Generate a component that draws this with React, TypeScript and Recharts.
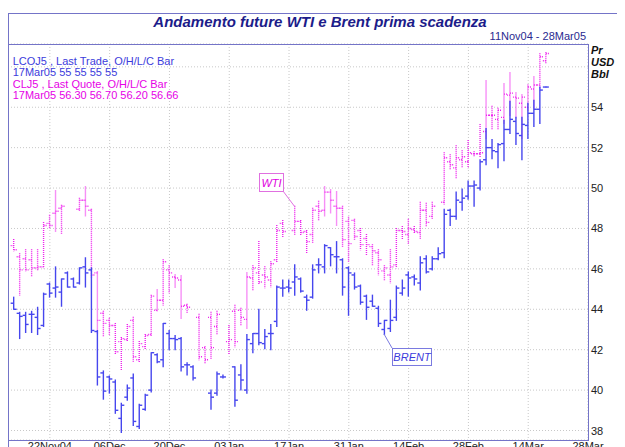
import React from "react";
import { ComposedChart, Bar, XAxis, YAxis, CartesianGrid } from "recharts";

const W = 617;
const H = 439;

// trading-day slots: 0 = 12Nov04 ... 89 = 17Mar05 (weekdays only)
const SLOTS = [
  0, 1, 2, 3, 4, 5, 6, 7, 8, 9, 10, 11, 12, 13, 14, 15, 16, 17, 18, 19,
  20, 21, 22, 23, 24, 25, 26, 27, 28, 29, 30, 31, 32, 33, 34, 35, 36, 37, 38, 39,
  40, 41, 42, 43, 44, 45, 46, 47, 48, 49, 50, 51, 52, 53, 54, 55, 56, 57, 58, 59,
  60, 61, 62, 63, 64, 65, 66, 67, 68, 69, 70, 71, 72, 73, 74, 75, 76, 77, 78, 79,
  80, 81, 82, 83, 84, 85, 86, 87, 88, 89,
];

const TICK_SLOTS = [6, 16, 26, 36, 46, 56, 66, 76, 86, 96];
const TICK_LABELS = ["22Nov04", "06Dec", "20Dec", "03Jan", "17Jan", "31Jan", "14Feb", "28Feb", "14Mar", "28Mar"];
const Y_TICKS = [38, 40, 42, 44, 46, 48, 50, 52, 54, 56];
// the top gridline has no label (the unit label sits there)
const Y_LABELLED = [38, 40, 42, 44, 46, 48, 50, 52, 54];

// Brent (LCOJ5) open / high / low / close
const BRENT_O = [
  44.3, 43.8, 43.7, 43.75, 43.6, 43.2, 45.25, 45.05, 44.85, 45.8,
  45.5, 45.3, 46.1, 45.95, 42.9, 40.85, 40.65, 40.4, 38.6, 39.65,
  40.6, 38.2, 39.05, 40.0, 41.75, 41.5, 42.8, 42.55, 42.55, 41.25,
  41.15, null, null, 39.85, 39.85, 40.65, null, 41.15, 40.75, 40.0,
  42.3, 42.8, 42.3, 42.8, 43.4, 45.05, 45.1, 45.35, 45.5, 44.6,
  44.6, 46.2, 46.1, 47.05, 46.6, 46.45, 46.05, 45.7, 45.15, 44.65,
  44.4, 44.05, 43.0, 43.05, 43.6, 44.8, 45.7, 45.6, 45.3, 46.5,
  46.0, 46.5, 46.8, 48.9, 48.6, 49.3, 49.6, 50.1, 50.0, 51.4,
  52.0, 51.8, 52.2, 52.9, 53.3, 52.6, 53.1, 53.7, 53.9, 55,
];
const BRENT_H = [
  44.6, 43.85, 43.85, 43.9, 44.1, 44.8, 45.3, 46.1, 45.5, 45.85,
  45.55, 46.05, 46.55, 46.05, 42.95, 40.95, 40.7, 40.5, 39.35, 40.25,
  40.8, 39.3, 39.8, 41.85, 41.8, 43.3, 42.95, 42.7, 42.6, 41.35,
  41.2, null, null, 40.0, 40.9, 40.75, null, 41.15, 41.25, 42.75,
  42.8, 44.0, 43.0, 43.25, 45.15, 45.45, 45.45, 46.2, 45.55, 44.7,
  46.2, 46.5, 47.2, 47.05, 47.35, 46.5, 46.1, 45.8, 45.2, 44.7,
  44.7, 44.15, 43.45, 44.45, 45.15, 45.45, 45.85, 45.7, 46.6, 46.65,
  46.6, 47.05, 48.95, 48.95, 49.8, 49.95, 50.35, 50.35, 51.4, 52.95,
  52.4, 52.2, 53.35, 54.3, 53.5, 53.5, 54.2, 54.35, 55.0, 55,
];
const BRENT_L = [
  44.0, 42.55, 42.85, 42.85, 42.75, 43.15, 44.6, 44.6, 44.15, 45.1,
  45.1, 45.25, 45.1, 42.85, 40.25, 39.55, 39.85, 38.85, 37.9, 39.5,
  38.25, 38.1, 39.0, 39.9, 41.35, 41.15, 42.0, 42.0, 40.95, 40.75,
  40.5, null, null, 39.05, 39.75, 40.6, null, 39.2, 40.0, 39.85,
  41.85, 42.25, 42.05, 42.0, 43.15, 44.65, 44.85, 44.7, 44.85, 43.95,
  44.55, 45.8, 45.8, 46.15, 45.8, 44.7, 43.7, 45.0, 44.25, 43.5,
  44.15, 43.15, 42.75, 42.9, 43.45, 44.7, 44.65, 45.2, 44.95, 45.8,
  45.95, 46.45, 46.55, 48.15, 48.45, 48.9, 49.45, 49.1, 49.9, 51.15,
  51.45, 51.0, 51.35, 52.7, 52.15, 51.4, 52.45, 53.05, 53.2, 55,
];
const BRENT_C = [
  44.0, 43.65, 43.25, 43.75, 43.05, 44.75, 44.8, 45.1, 45.5, 45.1,
  45.1, 46.05, 45.8, 42.95, 40.65, 39.95, 40.55, 39.0, 39.25, 40.1,
  38.45, 39.25, 39.75, 41.85, 41.4, 43.3, 42.55, 42.5, 41.15, 41.25,
  40.6, null, null, 39.65, 40.8, 40.65, null, 39.5, 40.5, 42.5,
  42.8, 42.35, 42.65, 42.8, 45.1, 45.05, 45.05, 45.6, 44.9, 44.45,
  45.95, 46.2, 47.15, 46.7, 46.6, 45.1, 45.8, 45.1, 44.35, 44.1,
  44.15, 43.3, 43.45, 43.45, 45.05, 45.05, 45.55, 45.5, 46.3, 45.85,
  46.5, 46.75, 48.7, 48.6, 49.4, 49.5, 50.1, 50.15, 51.3, 52.0,
  51.85, 52.15, 52.9, 53.4, 52.7, 53.15, 53.7, 53.9, 54.85, 55,
];

// WTI (CLJ5) open / high / low / close
const WTI_O = [
  47.15, 46.6, 46.5, 46.45, 46.05, 46.1, 48.25, 48.75, 49.0, null,
  null, 48.95, 49.4, 48.9, 45.8, 43.8, 43.45, 43.2, 42.4, 42.5,
  43.45, 41.5, 42.15, 42.75, 43.95, 44.45, 45.95, 45.6, 45.45, 44.2,
  null, 43.6, 42.1, 43.6, 43.15, null, 42.4, 43.9, 43.95, 43.5,
  45.55, 45.8, 45.7, 45.45, 46.45, 48.25, null, 47.9, 48.35, 47.85,
  47.7, 49.1, 48.9, 49.8, 49.1, 49.0, 48.35, 48.4, 47.9, 47.5,
  47.1, 46.8, 45.9, 45.7, 46.2, 47.9, 47.7, 47.95, 47.8, 48.9,
  48.6, null, 49.3, 51.3, 51.0, 51.4, 51.3, 51.7, 51.7, 52.8,
  53.6, 53.4, 53.5, 54.6, 54.5, 54.2, 54.0, 54.9, 55.1, 56.3,
];
const WTI_H = [
  47.45, 46.75, 46.95, 46.95, 46.95, 48.3, 48.65, 49.85, 49.15, null,
  null, 49.5, 50.05, 48.95, 45.85, 43.9, 43.55, 43.3, 42.6, 43.25,
  43.6, 42.4, 42.75, 44.7, 44.95, 46.45, 46.15, 45.7, 45.65, 44.25,
  null, 43.75, 42.15, 43.85, 43.9, null, 43.2, 44.2, 44.05, 45.8,
  46.15, 47.35, 46.1, 46.35, 48.15, 48.4, null, 49.1, 48.4, 47.9,
  49.0, 49.35, 50.05, 49.9, 49.8, 49.1, 48.55, 48.45, 48.0, 47.7,
  47.2, 46.95, 46.15, 46.95, 48.0, 48.1, 48.45, 48.1, 49.3, 49.25,
  49.3, null, 51.75, 51.65, 52.1, 51.85, 52.35, 51.8, 53.15, 55.3,
  54.05, 53.95, 55.15, 55.7, 54.7, 54.6, 55.1, 55.5, 56.65, 56.7,
];
const WTI_L = [
  46.9, 44.7, 45.9, 45.65, 45.95, 46.05, 48.0, 47.85, 47.75, null,
  null, 48.9, 48.6, 45.6, 42.8, 42.65, 42.75, 41.8, 41.0, 42.45,
  41.4, 41.4, 42.05, 42.7, 43.9, 44.2, 44.8, 45.1, 43.55, 43.8,
  null, 41.5, 41.35, 41.55, 42.75, null, 41.8, 42.15, 43.2, 43.05,
  44.95, 45.25, 45.05, 45.1, 46.35, 47.6, null, 47.7, 47.7, 46.8,
  47.3, 48.4, 48.6, 48.75, 48.15, 47.1, 46.35, 47.45, 46.95, 46.7,
  46.2, 45.7, 45.45, 45.3, 46.05, 47.45, 47.25, 47.75, 47.5, 48.1,
  48.5, null, 49.2, 50.9, 50.5, 51.05, 51.0, 51.55, 51.55, 52.45,
  52.9, 52.9, 53.2, 53.6, 53.45, 52.45, 53.85, 53.95, 54.95, 56.2,
];
const WTI_C = [
  46.95, 45.95, 45.95, 46.05, 46.1, 48.15, 48.15, 48.85, 49.1, null,
  null, 49.4, 49.1, 45.7, 43.45, 43.3, 43.2, 41.9, 42.55, 43.15,
  41.65, 42.3, 42.7, 44.65, 44.45, 46.35, 45.8, 45.55, 44.15, 44.1,
  null, 41.65, 41.5, 42.1, 43.75, null, 42.5, 42.4, 43.6, 45.6,
  46.05, 45.35, 45.6, 46.25, 47.9, 47.85, null, 48.35, 47.8, 47.35,
  48.9, 48.85, 49.8, 49.4, 49.0, 47.45, 47.25, 47.6, 47.2, 47.2,
  46.9, 46.45, 46.05, 46.1, 47.9, 47.85, 48.0, 47.85, 48.9, 48.3,
  49.1, null, 51.5, 51.15, 51.5, 51.55, 51.75, 51.7, 51.75, 53.6,
  53.6, 53.85, 54.65, 54.7, 54.45, 54.5, 55.0, 55.1, 56.5, 56.66,
];

const data = SLOTS.map((s, i) => ({
  s,
  bO: BRENT_O[i], bH: BRENT_H[i], bL: BRENT_L[i], bC: BRENT_C[i],
  wO: WTI_O[i], wH: WTI_H[i], wL: WTI_L[i], wC: WTI_C[i],
}));

const BRENT_COLOR = "#4646ee";
const WTI_COLOR = "#ee22ee";
const FRAME = "#7474c8";

// draws a high-low bar with open tick left and close tick right
const ohlcShape = (pre: string, color: string, dash?: string) => (p: any) => {
  const d = p.payload;
  const hi = d[pre + "H"];
  const lo = d[pre + "L"];
  if (hi == null || lo == null) return <g />;
  const top = Math.min(p.y, p.y + p.height);
  const bot = Math.max(p.y, p.y + p.height);
  const yv = (v: number) => (hi === lo ? top : top + ((hi - v) / (hi - lo)) * (bot - top));
  const cx = p.x + p.width / 2;
  const yo = yv(d[pre + "O"]);
  const yc = yv(d[pre + "C"]);
  return (
    <g stroke={color} strokeWidth={1.4} strokeDasharray={dash} fill="none">
      <line x1={cx} y1={top - 0.5} x2={cx} y2={bot + 0.5} />
      <line x1={cx - 3} y1={yo} x2={cx} y2={yo} />
      <line x1={cx} y1={yc} x2={cx + 3} y2={yc} />
    </g>
  );
};

const XTick = (p: any) => {
  const k = TICK_SLOTS.indexOf(p.payload.value);
  return (
    <text x={p.x} y={p.y + 10} textAnchor="middle" fontSize={11} fill="#222">
      {TICK_LABELS[k]}
    </text>
  );
};

const YTick = (p: any) =>
  Y_LABELLED.includes(p.payload.value) ? (
    <text x={p.x} y={p.y + 4} textAnchor="start" fontSize={11} fill="#222">
      {p.payload.value}
    </text>
  ) : (
    <g />
  );

export default function App() {
  return (
    <div style={{ position: "relative", width: W, height: H, overflow: "hidden", fontFamily: "Arial, 'Liberation Sans', sans-serif", background: "#fff" }}>
      <ComposedChart width={W} height={H} data={data} margin={{ top: 36, right: 0, bottom: 0, left: 0 }}>
        <CartesianGrid xAxisId="b" stroke="#c8c8c8" strokeDasharray="1 2" />
        <XAxis
          xAxisId="b"
          type="number"
          dataKey="s"
          domain={[-1, 96]}
          ticks={TICK_SLOTS}
          height={7}
          tickSize={0}
          tickMargin={0}
          axisLine={false}
          tickLine={false}
          tick={<XTick />}
          interval={0}
          allowDataOverflow
        />
        <XAxis xAxisId="w" type="number" dataKey="s" domain={[-1, 96]} hide allowDataOverflow />
        <YAxis
          orientation="right"
          width={37}
          domain={[37.53, 57.13]}
          ticks={Y_TICKS}
          tickSize={0}
          tickMargin={3}
          axisLine={false}
          tickLine={false}
          tick={<YTick />}
          interval={0}
          allowDataOverflow
        />
        <Bar
          xAxisId="w"
          dataKey={(d: any) => (d.wH == null ? null : [d.wL, d.wH])}
          barSize={6}
          isAnimationActive={false}
          shape={ohlcShape("w", WTI_COLOR, "1 1")}
        />
        <Bar
          xAxisId="b"
          dataKey={(d: any) => (d.bH == null ? null : [d.bL, d.bH])}
          barSize={6}
          isAnimationActive={false}
          shape={ohlcShape("b", BRENT_COLOR)}
        />
      </ComposedChart>
      <svg width={W} height={H} style={{ position: "absolute", left: 0, top: 0, pointerEvents: "none" }}>
        <line x1={0} y1={5.5} x2={W} y2={5.5} stroke={FRAME} />
        <line x1={0.5} y1={5} x2={0.5} y2={H} stroke={FRAME} />
        <rect x={0.5} y={36.5} width={580} height={396} fill="none" stroke={FRAME} />
        <text x={312} y={19} textAnchor="middle" fontSize={15} fontWeight="bold" fontStyle="italic" fill="#1c1c8a">
          Andamento future WTI e Brent prima scadenza
        </text>
        <text x={578} y={32} textAnchor="end" fontSize={11} fill="#2a2a90">11Nov04 - 28Mar05</text>
        <g fontSize={11}>
          <text x={4.7} y={56.5} fill="#3c3cdc">LCOJ5 , Last Trade, O/H/L/C Bar</text>
          <text x={4.7} y={68} fill="#3c3cdc">17Mar05 55 55 55 55</text>
          <text x={4.7} y={79.7} fill="#e600e6">CLJ5 , Last Quote, O/H/L/C Bar</text>
          <text x={4.7} y={91.3} fill="#e600e6">17Mar05 56.30 56.70 56.20 56.66</text>
        </g>
        <g fontSize={11} fontWeight="bold" fontStyle="italic" fill="#111">
          <text x={583} y={46}>Pr</text>
          <text x={583} y={58}>USD</text>
          <text x={583} y={70}>Bbl</text>
        </g>
        <line x1={275} y1={183} x2={287} y2={199} stroke="#e070e0" />
        <rect x={251.5} y={165.5} width={24} height={18} fill="#fff" stroke="#e070e0" />
        <text x={263.5} y={179} textAnchor="middle" fontSize={11} fontStyle="italic" fill="#e000e0">WTI</text>
        <line x1={376} y1={326} x2={384} y2={340} stroke="#7a7ae0" />
        <rect x={384.5} y={340.5} width={39} height={17} fill="#fff" stroke="#7a7ae0" />
        <text x={404} y={353} textAnchor="middle" fontSize={11} fontStyle="italic" fill="#3c3cdc">BRENT</text>
      </svg>
    </div>
  );
}
